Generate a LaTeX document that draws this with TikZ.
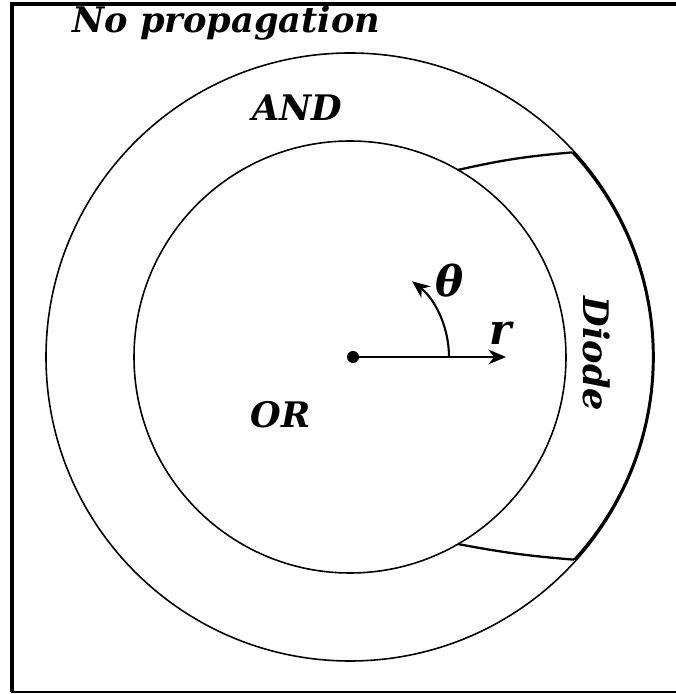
\documentclass[tikz,border=0pt]{standalone}
\usepackage{fontspec}
\setmainfont{DejaVu Serif}
\usetikzlibrary{arrows.meta}

\begin{document}
\begin{tikzpicture}[x=0.01cm,y=0.01cm,
  region/.style={font=\fontsize{10}{12}\selectfont\bfseries\itshape},
  sym/.style={font=\fontsize{12}{14}\selectfont\bfseries\itshape},
  ring/.style={line width=0.45pt},
  wall/.style={line width=0.65pt}]
\useasboundingbox (0,0) rectangle (676,694);
% frame
\draw[line width=1.15pt] (676,690) -- (12,690) -- (12,2);
\draw[line width=0.55pt] (11,2) -- (676,2);
% rings
\coordinate (O) at (350,337);
\draw[ring] (O) circle (304);
\draw[ring] (O) circle (216);
% diode region
\coordinate (d1) at ([shift={(60:216)}]O);
\coordinate (d2) at ([shift={(43:300)}]353,337);
\coordinate (d3) at ([shift={(-42.5:300)}]353,337);
\coordinate (d4) at ([shift={(-60:216)}]O);
\draw[wall] (d1) to[bend left=4] (d2);
\draw[wall] (d2) arc (43:-42.5:300);
\draw[wall] (d3) to[bend left=3] (d4);
% labels
\node[region,anchor=base west] (np) at (60,661) {No propagation};
\node[region,anchor=base west] (and) at (240,573) {AND};
\node[region,anchor=base west] (or) at (238,266) {OR};
\node[region,rotate=-90] (diode) at (597,340) {Diode};
% coordinates r, theta
\fill (353,337) circle (6);
\coordinate (c) at (353,337);
\coordinate (tip) at (506,337);
\draw[line width=0.6pt,-{Stealth[length=5pt,width=4.2pt,inset=1.6pt]}] (c) -- (tip);
\draw[line width=0.6pt,-{Stealth[length=5pt,width=4.2pt,inset=1.6pt]}] (449,337) arc (0:52:96);
\node[sym] (th) at (450,413) {θ};
\node[sym] (r) at (501,361) {r};
\end{tikzpicture}
\end{document}
